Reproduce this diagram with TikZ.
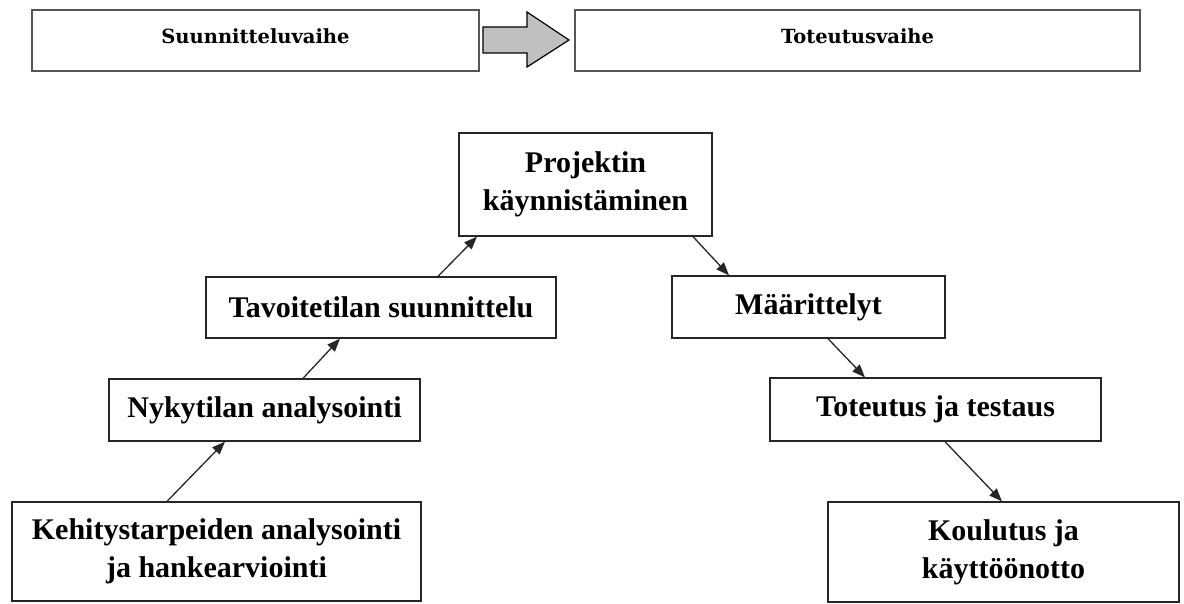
\documentclass[tikz,border=0pt]{standalone}
\usepackage{fontspec}
\setmainfont{Liberation Serif}
\newfontfamily\topfont{DejaVu Serif}
\usetikzlibrary{arrows.meta}
\definecolor{edgegray}{HTML}{555555}
\definecolor{arrowfill}{HTML}{C0C0C0}
\begin{document}
\begin{tikzpicture}[x=1pt,y=-1pt,
  phasebox/.style={draw=edgegray,line width=1.6pt,rectangle,inner sep=0pt},
  phasetext/.style={anchor=base,inner sep=0pt,font=\topfont\bfseries\fontsize{19.5}{23}\selectfont},
  stepbox/.style={draw=black!85,line width=1.3pt,rectangle,inner sep=0pt,align=center,
    font=\bfseries\fontsize{30}{38}\selectfont},
  conn/.style={draw=black!85,line width=1.3pt,-{Triangle[length=13pt,width=10pt]}}]
\useasboundingbox (0,0) rectangle (1184,604);
% top phase boxes
\node[phasebox,minimum width=447pt,minimum height=61pt] (suun) at (255.5,40.5) {};
\node[phasetext] (suunt) at (255.5,44) {Suunnitteluvaihe};
\node[phasebox,minimum width=565pt,minimum height=61pt] (tot) at (857.5,40.5) {};
\node[phasetext] (tott) at (857.5,44) {Toteutusvaihe};
% block arrow
\filldraw[fill=arrowfill,draw=black,line width=1.2pt]
  (483,27) -- (527,27) -- (527,12) -- (569,40) -- (527,67) -- (527,53) -- (483,53) -- cycle;
% step boxes
\node[stepbox,minimum width=253pt,minimum height=103pt] (proj) at (585.5,184.5) {Projektin\\käynnistäminen};
\node[stepbox,minimum width=350pt,minimum height=61pt] (tavo) at (381,307.5) {Tavoitetilan suunnittelu};
\node[stepbox,minimum width=273pt,minimum height=62pt] (maar) at (808.5,307) {Määrittelyt};
\node[stepbox,minimum width=311pt,minimum height=62pt] (nyky) at (264.5,410) {Nykytilan analysointi};
\node[stepbox,minimum width=331pt,minimum height=63pt] (tote) at (935.5,409.5) {Toteutus ja testaus};
\node[stepbox,minimum width=409pt,minimum height=99pt] (kehi) at (216.5,551.5) {Kehitystarpeiden analysointi\\ja hankearviointi};
\node[stepbox,minimum width=351pt,minimum height=100pt] (koul) at (1003.5,552) {Koulutus ja\\käyttöönotto};
% connectors
\draw[conn] ([xshift=-49.5pt]kehi.north) -- ([xshift=-39.5pt]nyky.south);
\draw[conn] ([xshift=38.5pt]nyky.north) -- ([xshift=-41pt]tavo.south);
\draw[conn] ([xshift=57pt]tavo.north) -- ([xshift=-108.5pt]proj.south);
\draw[conn] ([xshift=107.5pt]proj.south) -- ([xshift=-79.5pt]maar.north);
\draw[conn] ([xshift=19.5pt]maar.south) -- ([xshift=-70.5pt]tote.north);
\draw[conn] ([xshift=9.5pt]tote.south) -- ([xshift=-1.5pt]koul.north);
\end{tikzpicture}
\end{document}
